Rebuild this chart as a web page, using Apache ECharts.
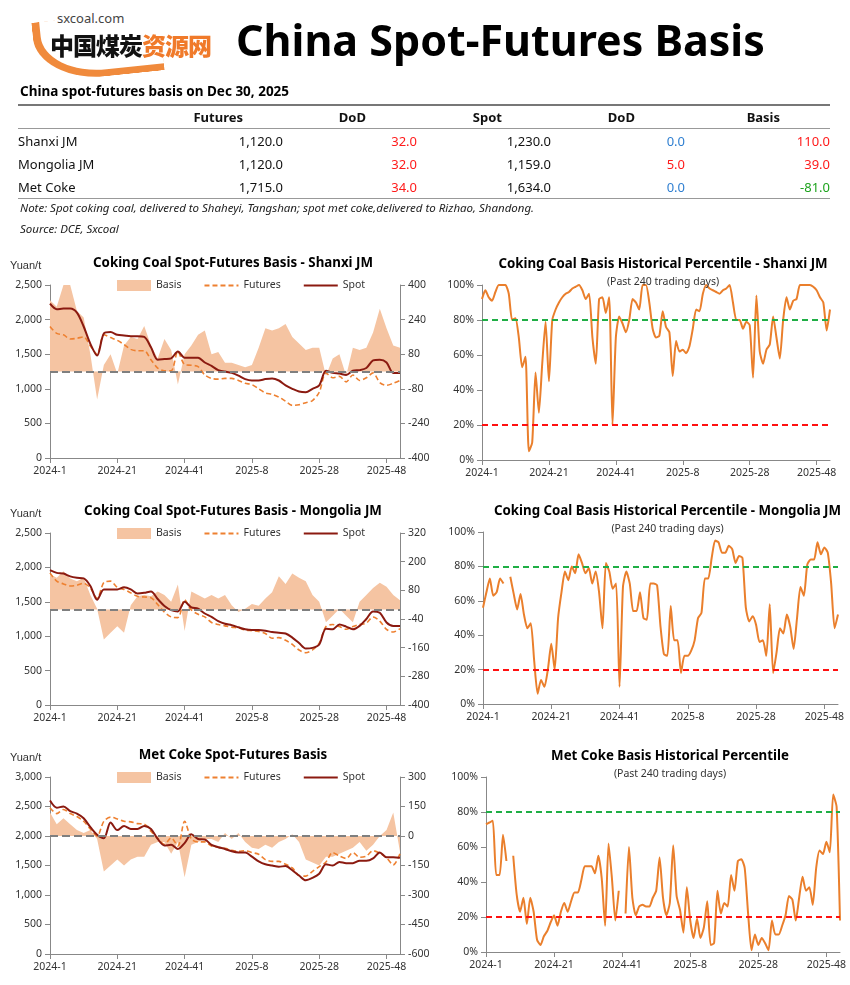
<!DOCTYPE html>
<html>
<head>
<meta charset="utf-8">
<title>China Spot-Futures Basis</title>
<script src="https://cdn.jsdelivr.net/npm/echarts@6/dist/echarts.min.js"></script>
<style>
  body { margin: 0; background: #fff; font-family: "Noto Sans", sans-serif; }
  #page { position: relative; width: 850px; height: 985px; overflow: hidden; }
  #chart { position: absolute; left: 0; top: 0; width: 850px; height: 985px; }
  .abs { position: absolute; white-space: nowrap; }
  .arc { position: absolute; left: 34px; top: 16px; width: 120px; height: 54px; border-left: 8px solid #f08a3c; border-bottom: 7px solid #f08a3c; border-radius: 0 0 0 70px / 0 0 0 46px; transform: rotate(-6deg); }
  table { position: absolute; left: 18px; top: 104px; width: 812px; table-layout: fixed; border-collapse: collapse; font-size: 13px; color: #111; }
  th { font-weight: bold; text-align: right; padding: 0; height: 22px; }
  td { padding: 0; height: 23px; text-align: right; }
  td:first-child { text-align: left; }
  .r { color: #ff1a1a; } .b { color: #2f7fd1; } .g { color: #1ea31e; }
</style>
</head>
<body>
<div id="page">
  <div id="chart"></div>
  <div class="arc"></div>
  <div class="abs" style="left:55px;top:9px;font-size:13px;color:#444;background:#fff;padding:0 2px;">sxcoal.com</div>
  <div class="abs" style="left:50px;top:27px;font-size:24px;font-weight:900;font-family:'Noto Sans CJK SC';letter-spacing:-1px;"><span style="color:#111">中国煤炭</span><span style="color:#f07a2a">资源网</span></div>
  <div class="abs" style="left:236px;top:10px;font-size:43px;font-weight:bold;color:#000;">China Spot-Futures Basis</div>
  <div class="abs" style="left:20px;top:82px;font-size:13.5px;font-weight:bold;">China spot-futures basis on Dec 30, 2025</div>
  <table>
    <colgroup><col style="width:150px"><col style="width:115px"><col style="width:134px"><col style="width:134px"><col style="width:134px"><col style="width:145px"></colgroup>
    <tr style="border-top:2px solid #777;border-bottom:1px solid #999;">
      <th></th><th style="padding-right:40px">Futures</th><th style="padding-right:51px">DoD</th><th style="padding-right:49px">Spot</th><th style="padding-right:50px">DoD</th><th style="padding-right:50px">Basis</th>
    </tr>
    <tr><td>Shanxi JM</td><td>1,120.0</td><td class="r">32.0</td><td>1,230.0</td><td class="b">0.0</td><td class="r">110.0</td></tr>
    <tr><td>Mongolia JM</td><td>1,120.0</td><td class="r">32.0</td><td>1,159.0</td><td class="r">5.0</td><td class="r">39.0</td></tr>
    <tr style="border-bottom:1px solid #999;"><td>Met Coke</td><td>1,715.0</td><td class="r">34.0</td><td>1,634.0</td><td class="b">0.0</td><td class="g">-81.0</td></tr>
  </table>
  <div class="abs" style="left:20px;top:200px;font-size:11.5px;font-style:italic;color:#222;">Note: Spot coking coal, delivered to Shaheyi, Tangshan; spot met coke,delivered to Rizhao, Shandong.</div>
  <div class="abs" style="left:20px;top:221px;font-size:11.5px;font-style:italic;color:#222;">Source: DCE, Sxcoal</div>
</div>
<script>
// week labels: biweekly for price charts, weekly for percentile charts
var weeks = [];
for (var w = 1; w <= 53; w++) weeks.push('2024-' + w);
for (var w2 = 1; w2 <= 52; w2++) weeks.push('2025-' + w2);
var biweeks = weeks.filter(function (d, i) { return i % 2 === 0; });

// Shanxi JM
var sxSpot = [2230,2150,2160,2160,2100,1900,1650,1480,1800,1820,1780,1770,1760,1760,1750,1600,1420,1430,1440,1540,1450,1450,1450,1380,1330,1270,1250,1230,1190,1140,1120,1120,1140,1150,1120,1050,1000,960,950,1000,1050,1260,1230,1220,1200,1260,1270,1300,1410,1420,1380,1230,1230];
var sxFut = [1900,1800,1780,1720,1730,1750,1620,1500,1780,1740,1700,1640,1570,1550,1550,1420,1300,1260,1260,1540,1350,1340,1320,1200,1150,1140,1150,1150,1120,1080,1060,1000,940,920,880,820,760,770,800,830,950,1230,1160,1180,1100,1200,1120,1160,1230,1090,1050,1080,1120];
var sxBasis = [330,300,400,400,280,250,80,-130,30,80,-10,120,160,150,210,120,60,150,100,-60,80,120,170,190,80,90,40,40,30,20,30,110,200,190,200,220,160,130,100,110,110,-20,60,80,-20,110,100,110,180,290,200,120,110];
var sxPct = [92,97,93,91,96,100,100,100,95,80,81,70,53,59,5,10,50,27,55,79,45,80,86,90,93,95,96,98,99,100,97,92,95,70,55,92,93,84,93,20,70,82,78,73,80,92,90,86,100,100,90,75,70,71,85,76,73,48,68,62,63,61,65,75,86,85,95,100,98,97,96,95,97,98,100,90,80,80,75,79,77,47,94,62,55,63,66,82,70,58,80,93,86,91,92,100,100,100,100,99,97,93,90,74,86];

// Mongolia JM
var mgSpot = [1960,1920,1910,1870,1850,1840,1730,1530,1680,1680,1680,1710,1680,1620,1630,1650,1540,1440,1380,1360,1500,1420,1400,1330,1280,1220,1180,1160,1130,1100,1090,1090,1080,1060,1050,1040,980,900,820,830,880,1110,1100,1170,1140,1100,1150,1250,1360,1340,1200,1150,1150];
var mgFut = [1920,1800,1760,1730,1740,1770,1700,1550,1780,1800,1710,1680,1630,1580,1570,1560,1460,1350,1280,1270,1530,1380,1320,1280,1200,1170,1150,1130,1120,1090,1080,1070,1040,970,980,940,880,800,760,800,900,1140,1170,1140,1100,1140,1170,1190,1280,1220,1100,1060,1110];
var mgBasis = [147,133,160,130,118,133,60,3,-126,-98,-70,-98,18,55,60,55,75,60,32,104,-90,75,60,46,60,46,60,18,-11,3,23,15,46,72,139,107,150,133,118,60,32,-54,-26,3,-26,-54,32,60,90,112,95,60,39];
var mgPct = [56,65,73,63,65,73,70,null,74,64,55,64,52,44,47,25,6,14,10,20,35,20,50,65,77,72,80,76,87,82,76,79,70,77,65,44,82,77,67,70,10,68,77,70,54,54,65,50,49,70,70,69,45,29,28,57,37,37,18,28,28,31,37,50,53,73,73,85,95,94,88,88,92,90,82,86,85,56,48,51,46,36,37,28,58,18,30,44,41,52,45,32,50,68,63,81,84,84,94,87,91,88,70,44,52];

// Met Coke
var mcSpot = [2600,2480,2500,2420,2380,2300,2150,2020,1960,2230,2100,2170,2120,2120,2170,2120,1950,1840,1850,1780,1880,2030,1950,1940,1850,1810,1780,1740,1720,1720,1650,1570,1520,1500,1480,1490,1420,1330,1250,1290,1360,1520,1500,1560,1540,1540,1580,1580,1620,1720,1640,1640,1630];
var mcFut = [2480,2380,2450,2380,2330,2250,2120,2000,2250,2320,2290,2250,2240,2210,2200,2080,1960,1860,1970,1830,2250,1950,1900,1900,1830,1810,1790,1760,1740,1750,1720,1690,1600,1570,1570,1520,1460,1330,1320,1400,1480,1560,1720,1660,1620,1720,1640,1660,1750,1710,1630,1510,1700];
var mcBasis = [120,60,90,60,30,15,30,-15,-180,-150,-120,-150,-120,-105,-105,-45,-30,-30,-90,-30,-210,-45,-30,-15,-15,-30,15,-15,15,-30,-60,-66,-45,-60,-30,-15,9,-30,-120,-135,-150,-105,-105,-90,-75,-60,-30,-75,-45,0,30,120,-81];
var mcPct = [73,74,75,44,44,67,52,null,55,33,23,31,16,31,23,7,4,9,12,17,21,15,23,28,23,29,34,34,41,49,49,49,45,55,42,15,62,42,18,35,null,22,60,31,21,26,27,26,26,31,35,54,31,21,28,61,32,24,11,37,18,8,19,8,14,29,4,5,35,22,28,26,44,35,52,53,48,22,1,10,4,8,5,1,18,10,10,15,21,32,30,18,31,43,35,37,27,48,58,56,63,57,90,83,18];

var TXT = '#333', AX = '#888';
var titles = [], legends = [], grids = [], xAxes = [], yAxes = [], series = [], graphics = [];

function fmt(v) { return v.toLocaleString('en-US'); }

function priceChart(name, top, bottom, lmax, rmin, rmax, rint, spot, fut, basis) {
  var g = grids.length;
  titles.push({ text: name, left: 228, top: top - 33, textAlign: 'center',
    textStyle: { fontSize: 13.3, fontWeight: 'bold', color: '#000' } });
  graphics.push({ type: 'text', left: 10, top: top - 25, style: { text: 'Yuan/t', fontSize: 11, fill: TXT } });
  legends.push({ top: top - 10, left: 112, itemGap: 22, itemWidth: 34, itemHeight: 11,
    textStyle: { fontSize: 10.5, color: TXT },
    data: [{ name: 'Basis' + g, icon: 'rect', itemStyle: { color: '#f5c4a2' } },
           { name: 'Futures' + g, itemStyle: { opacity: 0 } },
           { name: 'Spot' + g, itemStyle: { opacity: 0 } }],
    formatter: function (n) { return n.replace(/\d+$/, ''); } });
  grids.push({ left: 50, right: 450, top: top, height: bottom - top });
  xAxes.push({ type: 'category', gridIndex: g, data: biweeks, boundaryGap: false,
    axisLine: { lineStyle: { color: AX } },
    axisTick: { interval: 9, lineStyle: { color: AX } },
    axisLabel: { interval: 9, color: TXT, fontSize: 10.5, margin: 8 } });
  yAxes.push({ type: 'value', gridIndex: g, min: 0, max: lmax, interval: 500,
    axisLine: { show: true, lineStyle: { color: AX } }, axisTick: { show: true, lineStyle: { color: AX } },
    splitLine: { show: false }, axisLabel: { color: TXT, fontSize: 10.5, formatter: fmt } });
  yAxes.push({ type: 'value', gridIndex: g, position: 'right', min: rmin, max: rmax, interval: rint,
    axisLine: { show: true, lineStyle: { color: AX } }, axisTick: { show: true, lineStyle: { color: AX } },
    splitLine: { show: false }, axisLabel: { color: TXT, fontSize: 10.5 } });
  var yl = yAxes.length - 2;
  series.push({ name: 'Basis' + g, type: 'line', xAxisIndex: g, yAxisIndex: yl + 1, data: basis,
    symbol: 'none', lineStyle: { width: 0 }, areaStyle: { color: '#f5c4a2', opacity: 1 }, itemStyle: { color: '#f5c4a2' },
    markLine: { silent: true, symbol: 'none', label: { show: false },
      lineStyle: { color: '#7f7f7f', type: 'dashed', width: 2 }, data: [{ yAxis: 0 }] } });
  series.push({ name: 'Futures' + g, type: 'line', xAxisIndex: g, yAxisIndex: yl, data: fut,
    symbol: 'none', smooth: 0.3, itemStyle: { color: '#ee8030' },
    lineStyle: { color: '#ee8030', type: [5, 3], width: 1.6 } });
  series.push({ name: 'Spot' + g, type: 'line', xAxisIndex: g, yAxisIndex: yl, data: spot,
    symbol: 'none', smooth: 0.3, itemStyle: { color: '#8b1a10' },
    lineStyle: { color: '#8b1a10', width: 2 } });
}

function pctChart(name, top, bottom, left, right, pct) {
  var g = grids.length;
  titles.push({ text: name, subtext: '(Past 240 trading days)', left: (left + (850 - right)) / 2 + 2, top: top - 32,
    textAlign: 'center', itemGap: 6,
    textStyle: { fontSize: 13.3, fontWeight: 'bold', color: '#000' },
    subtextStyle: { fontSize: 10.5, color: TXT } });
  grids.push({ left: left, right: right, top: top, height: bottom - top });
  xAxes.push({ type: 'category', gridIndex: g, data: weeks, boundaryGap: false,
    axisLine: { lineStyle: { color: AX } },
    axisTick: { interval: 19, lineStyle: { color: AX } },
    axisLabel: { interval: 19, color: TXT, fontSize: 10.5, margin: 8 } });
  yAxes.push({ type: 'value', gridIndex: g, min: 0, max: 100, interval: 20,
    axisLine: { show: true, lineStyle: { color: AX } }, axisTick: { show: true, lineStyle: { color: AX } },
    splitLine: { show: false }, axisLabel: { color: TXT, fontSize: 10.5, formatter: '{value}%' } });
  series.push({ type: 'line', xAxisIndex: g, yAxisIndex: yAxes.length - 1, data: pct,
    symbol: 'none', smooth: 0.2, connectNulls: false,
    lineStyle: { color: '#ea7f2c', width: 2 },
    markLine: { silent: true, symbol: 'none', label: { show: false },
      data: [{ yAxis: 80, lineStyle: { color: '#1fae45', type: [6, 4], width: 2 } },
             { yAxis: 20, lineStyle: { color: '#ff1010', type: [6, 4], width: 2 } }] } });
}

priceChart('Coking Coal Spot-Futures Basis - Shanxi JM', 285, 458, 2500, -400, 400, 160, sxSpot, sxFut, sxBasis);
pctChart('Coking Coal Basis Historical Percentile - Shanxi JM', 285, 460, 482, 20, sxPct);
priceChart('Coking Coal Spot-Futures Basis - Mongolia JM', 533, 705, 2500, -400, 320, 120, mgSpot, mgFut, mgBasis);
pctChart('Coking Coal Basis Historical Percentile - Mongolia JM', 532, 704, 483, 12, mgPct);
priceChart('Met Coke Spot-Futures Basis', 777, 954, 3000, -600, 300, 150, mcSpot, mcFut, mcBasis);
pctChart('Met Coke Basis Historical Percentile', 777, 952, 486, 10, mcPct);

var chart = echarts.init(document.getElementById('chart'), null, { renderer: 'canvas' });
chart.setOption({
  animation: false,
  backgroundColor: '#fff',
  textStyle: { fontFamily: 'Noto Sans' },
  title: titles, legend: legends, grid: grids, xAxis: xAxes, yAxis: yAxes, series: series,
  graphic: graphics
});
window.onresize = function () { chart.resize(); };
</script>
</body>
</html>
